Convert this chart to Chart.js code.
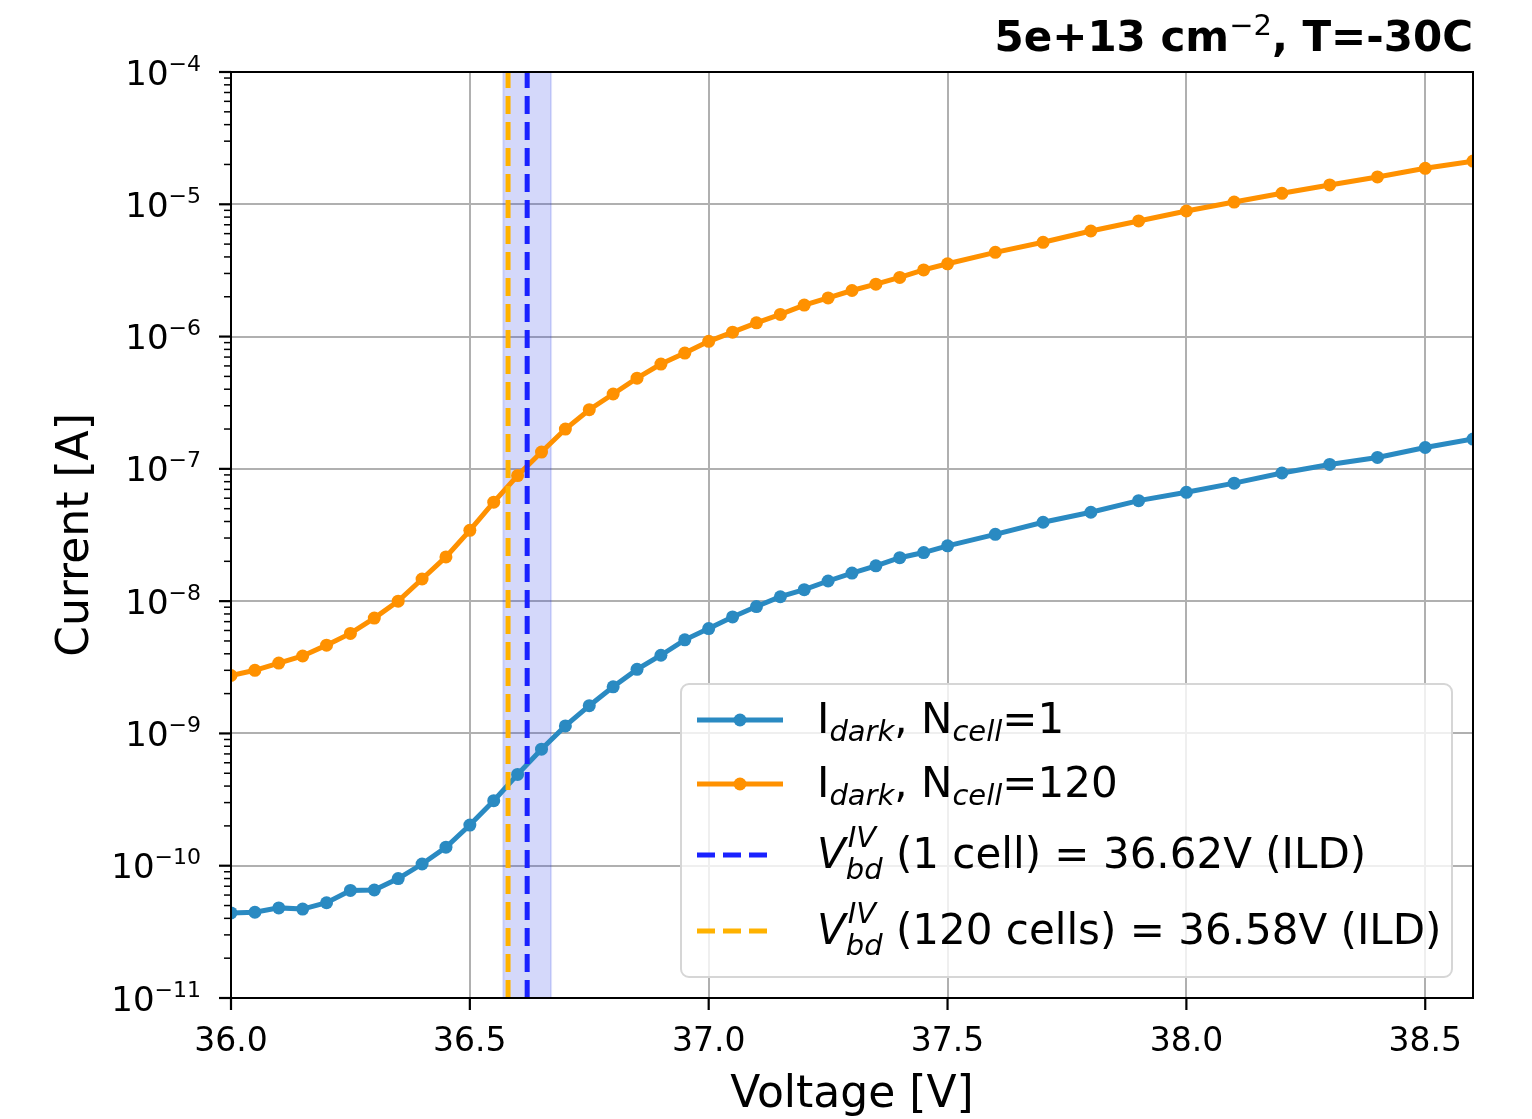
<!DOCTYPE html>
<html>
<head>
<meta charset="utf-8">
<script src="https://cdn.jsdelivr.net/npm/chart.js@4/dist/chart.umd.min.js"></script>
<style>
html, body { margin: 0; padding: 0; background: #fff; }
</style>
</head>
<body>
<canvas id="ivChart" width="1532" height="1119"></canvas>
<script>
// Data
const voltages = [
    36.00, 36.05, 36.10, 36.15, 36.20, 36.25, 36.30, 36.35, 36.40, 36.45,
    36.50, 36.55, 36.60, 36.65, 36.70, 36.75, 36.80, 36.85, 36.90, 36.95,
    37.00, 37.05, 37.10, 37.15, 37.20, 37.25, 37.30, 37.35, 37.40, 37.45,
    37.50, 37.60, 37.70, 37.80, 37.90, 38.00, 38.10, 38.20, 38.30, 38.40,
    38.50, 38.60
];
const darkOneCell = [
    4.4e-11, 4.45e-11, 4.8e-11, 4.7e-11, 5.25e-11, 6.5e-11, 6.55e-11, 8.0e-11, 1.03e-10, 1.38e-10,
    2.03e-10, 3.1e-10, 4.9e-10, 7.6e-10, 1.14e-9, 1.62e-9, 2.25e-9, 3.05e-9, 3.9e-9, 5.1e-9,
    6.2e-9, 7.6e-9, 9.1e-9, 1.08e-8, 1.22e-8, 1.42e-8, 1.63e-8, 1.85e-8, 2.13e-8, 2.33e-8,
    2.62e-8, 3.2e-8, 3.95e-8, 4.7e-8, 5.75e-8, 6.65e-8, 7.8e-8, 9.3e-8, 1.08e-7, 1.22e-7,
    1.45e-7, 1.68e-7
];
const darkAllCells = [
    2.74e-9, 3.0e-9, 3.4e-9, 3.85e-9, 4.65e-9, 5.7e-9, 7.45e-9, 1.0e-8, 1.47e-8, 2.16e-8,
    3.43e-8, 5.6e-8, 8.9e-8, 1.34e-7, 2.0e-7, 2.8e-7, 3.68e-7, 4.85e-7, 6.2e-7, 7.5e-7,
    9.2e-7, 1.08e-6, 1.27e-6, 1.47e-6, 1.73e-6, 1.96e-6, 2.23e-6, 2.49e-6, 2.8e-6, 3.19e-6,
    3.55e-6, 4.33e-6, 5.16e-6, 6.28e-6, 7.48e-6, 8.9e-6, 1.04e-5, 1.21e-5, 1.4e-5, 1.61e-5,
    1.87e-5, 2.12e-5
];
const vbdOneCell = 36.62;
const vbdAllCells = 36.58;
const vbdBand = [36.57, 36.67];
const xTickValues = [36.0, 36.5, 37.0, 37.5, 38.0, 38.5];
const yDecades = [-11, -10, -9, -8, -7, -6, -5, -4];
const xRange = [36.0, 38.6];

const FONT = '"DejaVu Sans", sans-serif';
const BLUE = '#2a8ac2';
const ORANGE = '#ff9100';
const VBD_BLUE = '#1a22ff';
const VBD_ORANGE = '#ffb200';
const DASH = [18, 8];

const toPoints = (ys) => voltages.map((v, i) => ({ x: v, y: ys[i] }));
const vLine = (v) => [{ x: v, y: Math.pow(10, yDecades[0]) }, { x: v, y: Math.pow(10, yDecades[yDecades.length - 1]) }];

// draw a run of text pieces (normal / italic / bold, raised or lowered)
function fontOf(p) {
    return `${p.italic ? 'italic ' : ''}${p.bold ? 'bold ' : ''}${p.size}px ${FONT}`;
}
function pieceWidth(ctx, p) {
    ctx.font = fontOf(p);
    if (p.sup !== undefined) {
        return Math.max(ctx.measureText(p.sup).width + 2, ctx.measureText(p.sub).width);
    }
    return ctx.measureText(p.text).width;
}
function drawPieces(ctx, x, y, pieces, align) {
    if (align === 'right') {
        const total = pieces.reduce((s, p) => s + pieceWidth(ctx, p), 0);
        x -= total;
    }
    ctx.textAlign = 'left';
    ctx.textBaseline = 'alphabetic';
    pieces.forEach(p => {
        const w = pieceWidth(ctx, p);
        ctx.font = fontOf(p);
        if (p.sup !== undefined) {
            ctx.fillText(p.sup, x + 2, y + p.supDy);
            ctx.fillText(p.sub, x, y + p.subDy);
        } else {
            ctx.fillText(p.text, x, y + (p.dy || 0));
        }
        x += w;
    });
}

const legendRows = [
    { kind: 'marker', color: BLUE, y: 720, pieces: [
        { text: 'I', size: 42 }, { text: 'dark', size: 29, italic: true, dy: 8 },
        { text: ', N', size: 42 }, { text: 'cell', size: 29, italic: true, dy: 8 },
        { text: '=1', size: 42 }] },
    { kind: 'marker', color: ORANGE, y: 784, pieces: [
        { text: 'I', size: 42 }, { text: 'dark', size: 29, italic: true, dy: 8 },
        { text: ', N', size: 42 }, { text: 'cell', size: 29, italic: true, dy: 8 },
        { text: '=120', size: 42 }] },
    { kind: 'dash', color: VBD_BLUE, y: 855, pieces: [
        { text: 'V', size: 42, italic: true },
        { sup: 'IV', sub: 'bd', size: 29, italic: true, supDy: -21, subDy: 11 },
        { text: ' (1 cell) = 36.62V (ILD)', size: 42 }] },
    { kind: 'dash', color: VBD_ORANGE, y: 931, pieces: [
        { text: 'V', size: 42, italic: true },
        { sup: 'IV', sub: 'bd', size: 29, italic: true, supDy: -21, subDy: 11 },
        { text: ' (120 cells) = 36.58V (ILD)', size: 42 }] }
];

// band, ticks, labels, frame, legend and title
const decorPlugin = {
    id: 'decor',
    beforeDatasetsDraw(chart) {
        const { ctx, chartArea: a, scales: { x } } = chart;
        const x0 = x.getPixelForValue(vbdBand[0]);
        const x1 = x.getPixelForValue(vbdBand[1]);
        ctx.save();
        ctx.fillStyle = 'rgba(40, 60, 230, 0.2)';
        ctx.fillRect(x0, a.top, x1 - x0, a.bottom - a.top);
        ctx.strokeStyle = 'rgba(40, 60, 230, 0.15)';
        ctx.lineWidth = 2;
        ctx.strokeRect(x0, a.top, x1 - x0, a.bottom - a.top);
        ctx.restore();
    },
    afterDraw(chart) {
        const { ctx, chartArea: a, scales: { x, y } } = chart;
        ctx.save();
        ctx.fillStyle = '#000';
        ctx.strokeStyle = '#000';

        // frame
        ctx.lineWidth = 2;
        ctx.strokeRect(a.left, a.top, a.right - a.left, a.bottom - a.top);

        // y ticks (major + minor)
        yDecades.forEach(d => {
            const py = y.getPixelForValue(Math.pow(10, d));
            ctx.lineWidth = 2.2;
            ctx.beginPath(); ctx.moveTo(a.left - 12, py); ctx.lineTo(a.left, py); ctx.stroke();
            drawPieces(ctx, 201, py + 12.5, [
                { text: '10', size: 34 },
                { text: '\u2212' + Math.abs(d), size: 22, dy: -14 }
            ], 'right');
            if (d < yDecades[yDecades.length - 1]) {
                ctx.lineWidth = 1.5;
                for (let m = 2; m <= 9; m++) {
                    const pm = y.getPixelForValue(m * Math.pow(10, d));
                    ctx.beginPath(); ctx.moveTo(a.left - 7, pm); ctx.lineTo(a.left, pm); ctx.stroke();
                }
            }
        });

        // x ticks
        ctx.font = `33px ${FONT}`;
        ctx.textAlign = 'center';
        ctx.textBaseline = 'alphabetic';
        xTickValues.forEach(v => {
            const px = x.getPixelForValue(v);
            ctx.lineWidth = 2.2;
            ctx.beginPath(); ctx.moveTo(px, a.bottom); ctx.lineTo(px, a.bottom + 12); ctx.stroke();
            ctx.fillText(v.toFixed(1), px, 1051);
        });

        // axis titles
        ctx.font = `44px ${FONT}`;
        ctx.fillText('Voltage [V]', (a.left + a.right) / 2, 1107);
        ctx.save();
        ctx.translate(88, (a.top + a.bottom) / 2);
        ctx.rotate(-Math.PI / 2);
        ctx.fillText('Current [A]', 0, 0);
        ctx.restore();

        // title
        drawPieces(ctx, a.right, 51, [
            { text: '5e+13 cm', size: 42, bold: true },
            { text: '\u22122', size: 29, dy: -16 },
            { text: ', T=-30C', size: 42, bold: true }
        ], 'right');

        // legend box
        const lx = 681, ly = 684, lw = 771, lh = 293, r = 8;
        ctx.beginPath();
        ctx.roundRect(lx, ly, lw, lh, r);
        ctx.fillStyle = 'rgba(255, 255, 255, 0.8)';
        ctx.fill();
        ctx.strokeStyle = '#d6d6d6';
        ctx.lineWidth = 2;
        ctx.stroke();

        legendRows.forEach(row => {
            ctx.save();
            ctx.strokeStyle = row.color;
            ctx.fillStyle = row.color;
            ctx.lineWidth = 5;
            if (row.kind === 'dash') ctx.setLineDash(DASH);
            const x1 = row.kind === 'dash' ? 774 : 783;
            ctx.beginPath(); ctx.moveTo(697, row.y); ctx.lineTo(x1, row.y); ctx.stroke();
            if (row.kind === 'marker') {
                ctx.beginPath(); ctx.arc(740, row.y, 6.5, 0, Math.PI * 2); ctx.fill();
            }
            ctx.restore();
            ctx.fillStyle = '#000';
            drawPieces(ctx, 817, row.y + 13, row.pieces);
        });
        ctx.restore();
    }
};

const ctx = document.getElementById('ivChart').getContext('2d');
const ivChart = new Chart(ctx, {
    type: 'line',
    data: {
        datasets: [
            {
                label: 'Vbd 1 cell',
                data: vLine(vbdOneCell),
                borderColor: VBD_BLUE,
                borderWidth: 5,
                borderDash: DASH,
                pointRadius: 0,
                order: 0
            },
            {
                label: 'Vbd 120 cells',
                data: vLine(vbdAllCells),
                borderColor: VBD_ORANGE,
                borderWidth: 5,
                borderDash: DASH,
                pointRadius: 0,
                order: 0
            },
            {
                label: 'Idark, Ncell=120',
                data: toPoints(darkAllCells),
                borderColor: ORANGE,
                backgroundColor: ORANGE,
                borderWidth: 5,
                pointRadius: 6.5,
                pointBorderWidth: 0,
                order: 1
            },
            {
                label: 'Idark, Ncell=1',
                data: toPoints(darkOneCell),
                borderColor: BLUE,
                backgroundColor: BLUE,
                borderWidth: 5,
                pointRadius: 6.5,
                pointBorderWidth: 0,
                order: 2
            }
        ]
    },
    options: {
        responsive: false,
        animation: false,
        devicePixelRatio: 1,
        clip: 0,
        tension: 0,
        layout: { padding: { left: 0, right: 59, top: 72, bottom: 0 } },
        plugins: { legend: { display: false }, tooltip: { enabled: false }, title: { display: false } },
        scales: {
            x: {
                type: 'linear',
                min: xRange[0],
                max: xRange[1],
                afterBuildTicks: (s) => { s.ticks = xTickValues.map(v => ({ value: v })); },
                afterFit: (s) => { s.height = 121; },
                ticks: { display: false },
                grid: { color: '#b0b0b0', lineWidth: 2, drawTicks: false },
                border: { color: '#000', width: 2 }
            },
            y: {
                type: 'logarithmic',
                min: Math.pow(10, yDecades[0]),
                max: Math.pow(10, yDecades[yDecades.length - 1]),
                afterBuildTicks: (s) => { s.ticks = yDecades.map(d => ({ value: Math.pow(10, d) })); },
                afterFit: (s) => { s.width = 231; },
                ticks: { display: false },
                grid: { color: '#b0b0b0', lineWidth: 2, drawTicks: false },
                border: { color: '#000', width: 2 }
            }
        }
    },
    plugins: [decorPlugin]
});
</script>
</body>
</html>
